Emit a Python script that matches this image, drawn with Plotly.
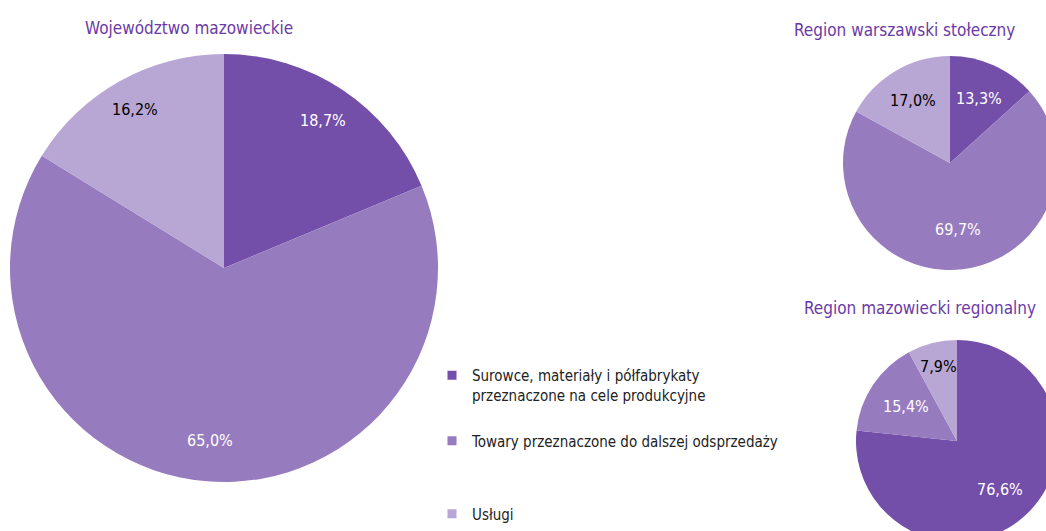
import math
import plotly.graph_objects as go

# ---- data ----
categories = [
    "Surowce, materiały i półfabrykaty<br>przeznaczone na cele produkcyjne",
    "Towary przeznaczone do dalszej odsprzedaży",
    "Usługi",
]
titles = ["Województwo mazowieckie", "Region warszawski stołeczny", "Region mazowiecki regionalny"]
vals_woj = [18.7, 65.0, 16.2]
vals_wsz = [13.3, 69.7, 17.0]
vals_maz = [76.6, 15.4, 7.9]

# ---- style ----
colors = ["#744FAA", "#977BBF", "#B8A6D5"]
text_colors = ["white", "white", "black"]
title_color = "#6B3AA6"
FONT = "DejaVu Sans Condensed, Liberation Sans Narrow, Roboto Condensed, Arial Narrow, sans-serif"

W, H = 1060, 545

# pie boxes in pixels (left, top, size) and label radius fractions per slice
pie_boxes = [(10, 54, 428), (843, 56, 214), (856, 340, 202)]
label_radius = [[0.83, 0.81, 0.85], [0.66, 0.63, 0.68], [0.64, 0.61, 0.76]]

fig = go.Figure()

for vals, (left, top, size), fr in zip([vals_woj, vals_wsz, vals_maz], pie_boxes, label_radius):
    fig.add_trace(go.Pie(
        labels=categories, values=vals, sort=False, direction="clockwise", rotation=0,
        marker=dict(colors=colors, line=dict(width=0)),
        textinfo="none",
        domain=dict(x=[left / W, (left + size) / W], y=[1 - (top + size) / H, 1 - top / H]),
        showlegend=False, hoverinfo="label+value",
    ))
    # value labels placed inside each slice along its mid-angle
    cx, cy, r = left + size / 2, top + size / 2, size / 2
    total = sum(vals)
    cum = 0.0
    for v, f, tc in zip(vals, fr, text_colors):
        ang = (cum + v / 2) / total * 2 * math.pi
        cum += v
        px = cx + f * r * math.sin(ang)
        py = cy - f * r * math.cos(ang)
        fig.add_annotation(text=f"{v:.1f}%".replace(".", ","), x=px / W, y=1 - py / H,
                           xref="paper", yref="paper", showarrow=False,
                           xanchor="center", yanchor="middle",
                           font=dict(family=FONT, size=16, color=tc))

# legend entries
for i, cat in enumerate(categories):
    lname = "legend" if i == 0 else f"legend{i+1}"
    fig.add_trace(go.Scatter(
        x=[None], y=[None], mode="markers", name=cat,
        marker=dict(symbol="square", size=9, color=colors[i]),
        legend=lname, showlegend=True,
    ))

legend_common = dict(font=dict(family=FONT, size=15, color="#222222"), bgcolor="rgba(0,0,0,0)",
                     itemwidth=30, tracegroupgap=0, xanchor="left")
fig.update_layout(
    legend=dict(x=432 / W, y=1 - 359 / H, yanchor="top", valign="top", **legend_common),
    legend2=dict(x=432 / W, y=1 - 441 / H, yanchor="middle", **legend_common),
    legend3=dict(x=432 / W, y=1 - 514 / H, yanchor="middle", **legend_common),
)

title_pos = [(189, 28), (904, 30), (920, 308)]
for t, (x, y) in zip(titles, title_pos):
    fig.add_annotation(text=t, x=x / W, y=1 - y / H, xref="paper", yref="paper",
                       showarrow=False, xanchor="center", yanchor="middle",
                       font=dict(family=FONT, size=17, color=title_color))

fig.update_layout(
    width=W, height=H, margin=dict(l=0, r=0, t=0, b=0),
    paper_bgcolor="white", plot_bgcolor="white", separators=", ",
    xaxis=dict(visible=False), yaxis=dict(visible=False),
    font=dict(family=FONT),
)

fig.write_html("out.html", config={"displayModeBar": False},
               post_script="document.body.style.margin='0';document.body.style.overflow='hidden';")
